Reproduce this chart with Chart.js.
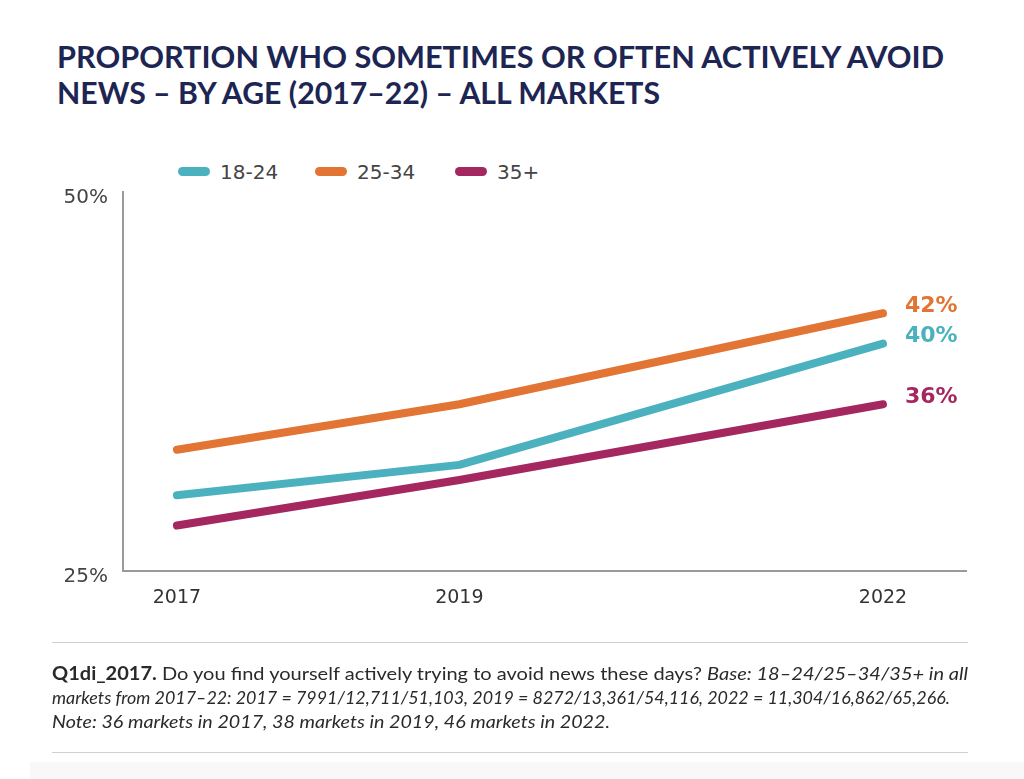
<!DOCTYPE html>
<html>
<head>
<meta charset="utf-8">
<script src="https://cdn.jsdelivr.net/npm/chart.js@4.4.1/dist/chart.umd.min.js"></script>
<style>
  html, body { margin:0; padding:0; background:#fff; }
  body { width:1024px; height:779px; position:relative; overflow:hidden; font-family: Lato, "Noto Sans", sans-serif; }
  #c { position:absolute; left:0; top:0; }
  .fit { position:absolute; white-space:nowrap; display:inline-block; transform-origin:0 50%; }
  .title { font-family: Lato, sans-serif; font-weight:700; font-size:31px; color:#1d2553; line-height:36px; }
  .foot { font-family: Lato, sans-serif; font-size:18px; color:#2a2a2a; line-height:24px; }
  .rule { position:absolute; left:52px; width:916px; height:0; border-top:1.5px solid #cfcfcf; }
  .leg { position:absolute; top:160px; height:24px; font-family:"DejaVu Sans", sans-serif; font-size:20px; color:#444; line-height:24px; }
  .sw { position:absolute; width:32px; height:9px; border-radius:5px; top:7px; }
  #band { position:absolute; left:30px; right:0; top:762px; bottom:0; background:#f8f8f8; }
</style>
</head>
<body>
<div class="fit title" style="left:57px; top:38px;" data-w="887">PROPORTION WHO SOMETIMES OR OFTEN ACTIVELY AVOID</div>
<div class="fit title" style="left:57px; top:74px;" data-w="603">NEWS – BY AGE (2017–22) – ALL MARKETS</div>
<div id="legend"></div>
<canvas id="c" width="1024" height="779"></canvas>
<div class="rule" style="top:642px;"></div>
<div class="fit foot" style="left:52px; top:661px;" data-w="916"><b>Q1di_2017.</b> Do you find yourself actively trying to avoid news these days? <i>Base: 18–24/25–34/35+ in all</i></div>
<div class="fit foot" style="left:52px; top:685px;" data-w="898"><i>markets from 2017–22: 2017 = 7991/12,711/51,103, 2019 = 8272/13,361/54,116, 2022 = 11,304/16,862/65,266.</i></div>
<div class="fit foot" style="left:52px; top:709px;" data-w="558"><i>Note: 36 markets in 2017, 38 markets in 2019, 46 markets in 2022.</i></div>
<div class="rule" style="top:752px;"></div>
<div id="band"></div>
<script>
const years = [2017, 2019, 2022];
const seriesNames = ['18-24', '25-34', '35+'];
const age18_24 = [30, 32, 40];
const age25_34 = [33, 36, 42];
const age35plus = [28, 31, 36];
const yTicks = [25, 50];
const colors = ['#4bb1be', '#e27434', '#a4285f'];

// fit text lines to widths
document.querySelectorAll('.fit').forEach(el => {
  const w = el.getBoundingClientRect().width;
  const t = parseFloat(el.dataset.w);
  el.style.transform = 'scaleX(' + (t / w) + ')';
});

// legend
const legendLefts = [178, 315, 455];
const legend = document.getElementById('legend');
seriesNames.forEach((n, i) => {
  const sw = document.createElement('div');
  sw.className = 'sw';
  sw.style.left = legendLefts[i] + 'px';
  sw.style.top = (160 + 7) + 'px';
  sw.style.background = colors[i];
  legend.appendChild(sw);
  const t = document.createElement('div');
  t.className = 'leg';
  t.style.left = (legendLefts[i] + 42) + 'px';
  t.textContent = n;
  legend.appendChild(t);
});

const allSeries = [age18_24, age25_34, age35plus];
const datasets = allSeries.map((vals, i) => ({
  label: seriesNames[i],
  data: years.map((y, j) => ({ x: y, y: vals[j] })),
  borderColor: colors[i],
  backgroundColor: colors[i],
  borderWidth: 8,
  borderCapStyle: 'round',
  borderJoinStyle: 'round',
  pointRadius: 0,
  tension: 0,
  clip: false
}));

const endLabels = {
  id: 'endLabels',
  afterDatasetsDraw(chart) {
    const ctx = chart.ctx;
    ctx.save();
    ctx.font = '700 22px "DejaVu Sans", sans-serif';
    ctx.textBaseline = 'middle';
    ctx.textAlign = 'left';
    chart.data.datasets.forEach((ds, i) => {
      const meta = chart.getDatasetMeta(i);
      const pt = meta.data[meta.data.length - 1];
      const v = ds.data[ds.data.length - 1].y;
      ctx.fillStyle = ds.borderColor;
      ctx.fillText(v + '%', pt.x + 22, pt.y - 7);
    });
    ctx.restore();
  }
};

new Chart(document.getElementById('c'), {
  type: 'line',
  data: { datasets },
  options: {
    responsive: false,
    animation: false,
    devicePixelRatio: 1,
    layout: { padding: { left: 0, top: 192, right: 58, bottom: 168 } },
    plugins: { legend: { display: false }, tooltip: { enabled: false } },
    scales: {
      x: {
        type: 'linear',
        min: 2016.618,
        max: 2022.588,
        afterBuildTicks: s => { s.ticks = years.map(v => ({ value: v })); },
        afterFit: s => { s.height = 40; },
        grid: { display: false, drawTicks: false },
        border: { display: true, color: '#9a9a9a', width: 2 },
        ticks: {
          callback: v => String(v),
          color: '#333',
          font: { family: '"DejaVu Sans", sans-serif', size: 19 },
          padding: 16,
          maxRotation: 0
        }
      },
      y: {
        min: 25,
        max: 50,
        afterBuildTicks: s => { s.ticks = yTicks.map(v => ({ value: v })); },
        afterFit: s => { s.width = 123; },
        grid: { display: false, drawTicks: false },
        border: { display: true, color: '#9a9a9a', width: 2 },
        ticks: {
          callback: v => v + '%',
          color: '#444',
          font: { family: '"DejaVu Sans", sans-serif', size: 20 },
          padding: 15,
          labelOffset: 6
        }
      }
    }
  },
  plugins: [endLabels]
});
</script>
</body>
</html>
